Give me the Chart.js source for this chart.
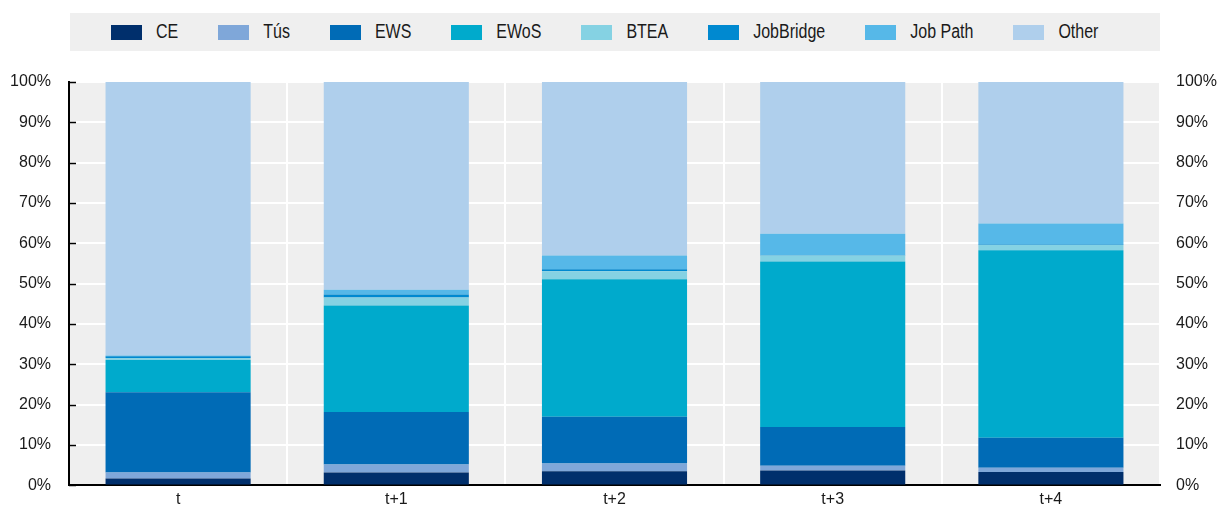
<!DOCTYPE html>
<html lang="en">
<head>
  <meta charset="UTF-8">
  <title>Stacked shares</title>
  <script src="https://cdn.jsdelivr.net/npm/chart.js"></script>
  <style>
    body { margin: 0; background: #fff; font-family: "Liberation Sans", Arial, sans-serif; }
    #wrap { position: relative; width: 1220px; height: 513px; }
    #myChart { position: absolute; left: 0; top: 0; }
    #legend {
      position: absolute; left: 70px; top: 13px; width: 1090px; height: 38px;
      background: #efefef; display: flex; align-items: center;
      padding-left: 41px; box-sizing: border-box; gap: 40px;
    }
    .item { display: flex; align-items: center; gap: 14px; font-size: 16px; color: #1a1a1a; }
    .box { width: 31px; height: 15px; }
    .item span { display: inline-block; transform: scaleY(1.25); }
  </style>
</head>
<body>
  <div id="wrap">
    <canvas id="myChart" width="1220" height="513"></canvas>
    <div id="legend"></div>
  </div>

  <script>
    const categories = ['t', 't+1', 't+2', 't+3', 't+4'];
    const seriesNames = ['CE', 'Tús', 'EWS', 'EWoS', 'BTEA', 'JobBridge', 'Job Path', 'Other'];
    const colors = ['#002f6c', '#7fa7d9', '#006bb6', '#00aacc', '#85d2e3', '#0089d0', '#56b8e8', '#afcfec'];

    const ce        = [1.7, 3.2, 3.5, 3.7, 3.3];
    const tus       = [1.5, 2.0, 1.9, 1.2, 1.1];
    const ews       = [19.9, 13.0, 11.6, 9.6, 7.4];
    const ewos      = [8.0, 26.4, 34.1, 41.0, 46.5];
    const btea      = [0.5, 2.0, 2.0, 1.5, 1.3];
    const jobBridge = [0.4, 0.7, 0.5, 0.1, 0.1];
    const jobPath   = [0.2, 1.2, 3.4, 5.3, 5.2];
    const other     = [67.8, 51.5, 43.0, 37.6, 35.1];

    const yTicks = [0, 10, 20, 30, 40, 50, 60, 70, 80, 90, 100];

    const allSeries = [ce, tus, ews, ewos, btea, jobBridge, jobPath, other];

    // html legend
    const legend = document.getElementById('legend');
    seriesNames.forEach((name, i) => {
      const it = document.createElement('div');
      it.className = 'item';
      it.innerHTML = '<div class="box" style="background:' + colors[i] + '"></div><span>' + name + '</span>';
      legend.appendChild(it);
    });

    const bgPlugin = {
      id: 'bg',
      beforeDraw(chart) {
        const a = chart.chartArea;
        const c = chart.ctx;
        c.save();
        c.fillStyle = '#efefef';
        c.fillRect(a.left, a.top, a.right - a.left, a.bottom - a.top);
        c.restore();
      }
    };

    // short black ticks pointing inward on the left axis
    const innerTicks = {
      id: 'innerTicks',
      afterDraw(chart) {
        const s = chart.scales.y;
        const c = chart.ctx;
        c.save();
        c.strokeStyle = '#000';
        c.lineWidth = 1.5;
        yTicks.forEach(v => {
          const py = Math.round(s.getPixelForValue(v)) + 0.5;
          c.beginPath();
          c.moveTo(s.right, py);
          c.lineTo(s.right + 7, py);
          c.stroke();
        });
        c.restore();
      }
    };

    const font = { family: 'Liberation Sans, Arial, sans-serif', size: 16 };

    const ctx = document.getElementById('myChart').getContext('2d');
    const myChart = new Chart(ctx, {
      type: 'bar',
      data: {
        labels: categories,
        datasets: allSeries.map((d, i) => ({
          label: seriesNames[i],
          data: d,
          backgroundColor: colors[i],
          borderWidth: 0,
          categoryPercentage: 1,
          barPercentage: 0.665
        }))
      },
      options: {
        responsive: false,
        animation: false,
        layout: { padding: { top: 82, bottom: 0, left: 10, right: 3 } },
        plugins: { legend: { display: false }, tooltip: { enabled: false } },
        scales: {
          x: {
            stacked: true,
            afterFit(scale) { scale.height = 22; },
            grid: { color: '#ffffff', lineWidth: 2, drawTicks: false, offset: true },
            border: { color: '#000', width: 2 },
            ticks: { color: '#1a1a1a', font: font, padding: 5 }
          },
          y: {
            stacked: true,
            min: 0, max: 100,
            afterBuildTicks(scale) { scale.ticks = yTicks.map(v => ({ value: v })); },
            afterFit(scale) { scale.width = 59; },
            grid: { color: '#ffffff', lineWidth: 2, drawTicks: false },
            border: { color: '#000', width: 2 },
            ticks: { color: '#1a1a1a', font: font, padding: 18, callback: v => v + '%' }
          },
          y2: {
            position: 'right',
            min: 0, max: 100,
            afterBuildTicks(scale) { scale.ticks = yTicks.map(v => ({ value: v })); },
            afterFit(scale) { scale.width = 57; },
            grid: { display: false, drawTicks: false },
            border: { display: false },
            ticks: { color: '#1a1a1a', font: font, padding: 16, callback: v => v + '%' }
          }
        }
      },
      plugins: [bgPlugin, innerTicks]
    });
  </script>
</body>
</html>
